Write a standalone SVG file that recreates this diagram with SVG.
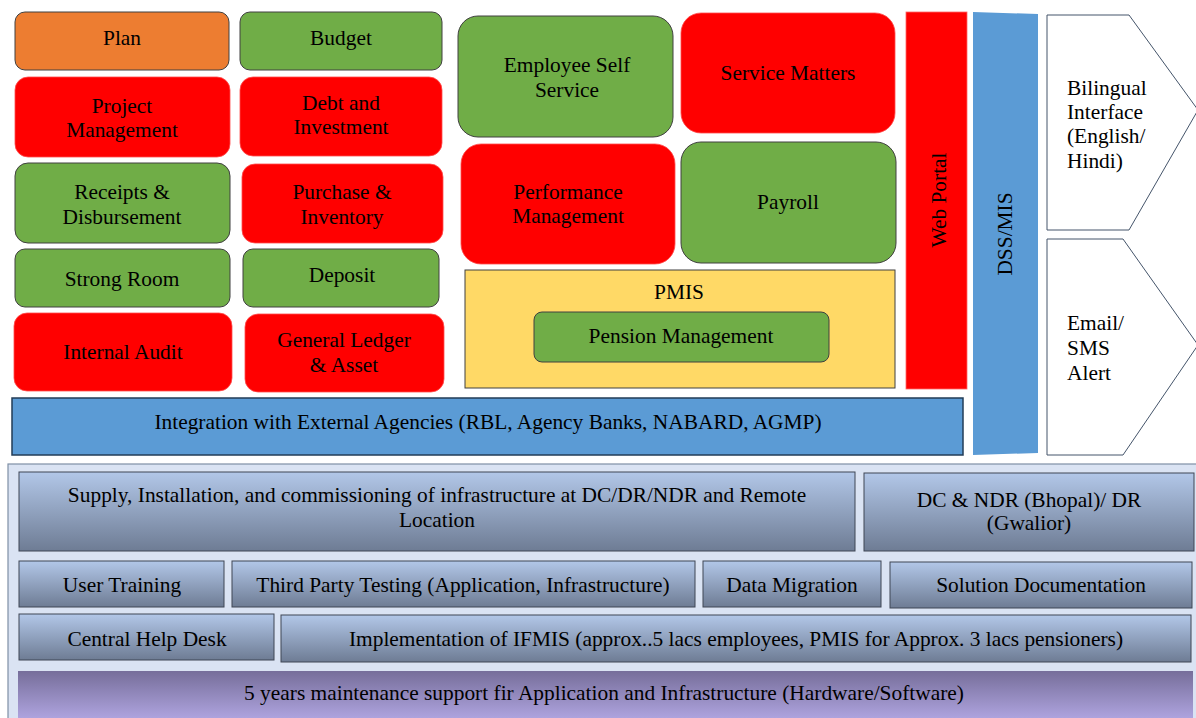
<svg xmlns="http://www.w3.org/2000/svg" width="1196" height="718" viewBox="0 0 1196 718">
<defs>
<linearGradient id="gBlue" x1="0" y1="0" x2="0" y2="1">
<stop offset="0" stop-color="#b2c7e8"/>
<stop offset="1" stop-color="#6e7c94"/>
</linearGradient>
<linearGradient id="gPurple" x1="0" y1="0" x2="0" y2="1">
<stop offset="0" stop-color="#766e9a"/>
<stop offset="1" stop-color="#aea3de"/>
</linearGradient>
<style>
text{font-family:"Liberation Serif","Times New Roman",serif;font-size:21.4px;fill:#000;text-anchor:middle}
.l{text-anchor:start}
.or{fill:#ed7d31;stroke:#404040;stroke-width:1}
.gr{fill:#70ad47;stroke:#404040;stroke-width:1}
.rd{fill:#ff0000;stroke:#ff4d4d;stroke-width:0.8}
.bl{fill:#5b9bd5}
.bx{fill:url(#gBlue);stroke:#3f4654;stroke-width:1}
.pu{fill:url(#gPurple)}
.pent{fill:#fff;stroke:#44546a;stroke-width:1}
</style>
</defs>
<rect width="1196" height="718" fill="#fff"/>

<g id="plan"><rect class="or" x="15" y="12" width="214" height="58" rx="10"/><text x="122" y="45">Plan</text></g>
<g id="budget"><rect class="gr" x="240" y="12" width="202" height="58" rx="10"/><text x="341" y="45">Budget</text></g>
<g id="project-management"><rect class="rd" x="15" y="77" width="215" height="80" rx="13"/><text x="122" y="113">Project</text><text x="122" y="137">Management</text></g>
<g id="debt-investment"><rect class="rd" x="240" y="77" width="202" height="79" rx="13"/><text x="341" y="110">Debt and</text><text x="341" y="134">Investment</text></g>
<g id="receipts"><rect class="gr" x="15" y="163" width="215" height="80" rx="13"/><text x="122" y="199">Receipts &amp;</text><text x="122" y="224">Disbursement</text></g>
<g id="purchase"><rect class="rd" x="242" y="164" width="201" height="79" rx="13"/><text x="342" y="199">Purchase &amp;</text><text x="342" y="224">Inventory</text></g>
<g id="strong-room"><rect class="gr" x="15" y="249" width="215" height="58" rx="10"/><text x="122" y="286">Strong Room</text></g>
<g id="deposit"><rect class="gr" x="243" y="249" width="196" height="58" rx="10"/><text x="342" y="282">Deposit</text></g>
<g id="internal-audit"><rect class="rd" x="14" y="313" width="218" height="78" rx="13"/><text x="123" y="359">Internal Audit</text></g>
<g id="general-ledger"><rect class="rd" x="245" y="314" width="199" height="78" rx="13"/><text x="344" y="347">General Ledger</text><text x="344" y="372">&amp; Asset</text></g>

<g id="employee-self-service"><rect class="gr" x="458" y="16" width="215" height="121" rx="20"/><text x="567" y="72">Employee Self</text><text x="567" y="97">Service</text></g>
<g id="service-matters"><rect class="rd" x="681" y="13" width="214" height="120" rx="20"/><text x="788" y="80">Service Matters</text></g>
<g id="performance"><rect class="rd" x="461" y="144" width="214" height="120" rx="20"/><text x="568" y="199">Performance</text><text x="568" y="223">Management</text></g>
<g id="payroll"><rect class="gr" x="681" y="142" width="215" height="121" rx="20"/><text x="788" y="209">Payroll</text></g>
<g id="pmis"><rect x="465" y="270" width="430" height="118" fill="#ffd966" stroke="#404040" stroke-width="1"/><text x="679" y="299">PMIS</text></g>
<g id="pension-management"><rect class="gr" x="534" y="312" width="295" height="50" rx="8"/><text x="681" y="343">Pension Management</text></g>

<g id="web-portal"><rect x="906" y="12" width="61" height="377" fill="#ff0000" stroke="#ff6666" stroke-width="0.8"/><text transform="translate(946 200) rotate(-90)" x="0" y="0">Web Portal</text></g>
<g id="dss-mis"><polygon class="bl" points="973,12 1038,14 1038,453 973,455"/><text transform="translate(1012 234) rotate(-90)" x="0" y="0" fill="#1b2a3e">DSS/MIS</text></g>
<g id="bilingual"><polygon class="pent" points="1047,15 1129,15 1198,110 1129,230 1047,230"/><text class="l" x="1067" y="95">Bilingual</text><text class="l" x="1067" y="119">Interface</text><text class="l" x="1067" y="143">(English/</text><text class="l" x="1067" y="168">Hindi)</text></g>
<g id="email-sms"><polygon class="pent" points="1047,239 1123,239 1198,345 1123,455 1047,455"/><text class="l" x="1067" y="330">Email/</text><text class="l" x="1067" y="355">SMS</text><text class="l" x="1067" y="380">Alert</text></g>

<g id="integration"><rect x="12" y="398" width="951" height="57" fill="#5b9bd5" stroke="#223c57" stroke-width="1.5"/><text x="488" y="429">Integration with External Agencies (RBL, Agency Banks, NABARD, AGMP)</text></g>

<g id="infrastructure-layer">
<rect x="8" y="464" width="1192" height="260" fill="#dae3f3" stroke="#7f8fa6" stroke-width="1.2"/>
</g>
<g id="supply"><rect class="bx" x="19" y="472" width="836" height="79"/><text x="437" y="502">Supply, Installation, and commissioning of infrastructure at DC/DR/NDR and Remote</text><text x="437" y="527">Location</text></g>
<g id="dc-ndr"><rect class="bx" x="864" y="473" width="330" height="78"/><text x="1029" y="507">DC &amp; NDR (Bhopal)/ DR</text><text x="1029" y="530">(Gwalior)</text></g>
<g id="user-training"><rect class="bx" x="19" y="561" width="205" height="46"/><text x="122" y="592">User Training</text></g>
<g id="third-party-testing"><rect class="bx" x="232" y="561" width="463" height="46"/><text x="463" y="592">Third Party Testing (Application, Infrastructure)</text></g>
<g id="data-migration"><rect class="bx" x="703" y="561" width="178" height="46"/><text x="792" y="592">Data Migration</text></g>
<g id="solution-documentation"><rect class="bx" x="890" y="562" width="302" height="46"/><text x="1041" y="592">Solution Documentation</text></g>
<g id="central-help-desk"><rect class="bx" x="19" y="614" width="255" height="46"/><text x="147" y="646">Central Help Desk</text></g>
<g id="implementation"><rect class="bx" x="281" y="615" width="910" height="47"/><text x="736" y="646">Implementation of IFMIS (approx..5 lacs employees, PMIS for Approx. 3 lacs pensioners)</text></g>
<g id="maintenance"><rect class="pu" x="18" y="671" width="1175" height="47"/><text x="604" y="700">5 years maintenance support fir Application and Infrastructure (Hardware/Software)</text></g>

<g id="connectors"></g>
</svg>
